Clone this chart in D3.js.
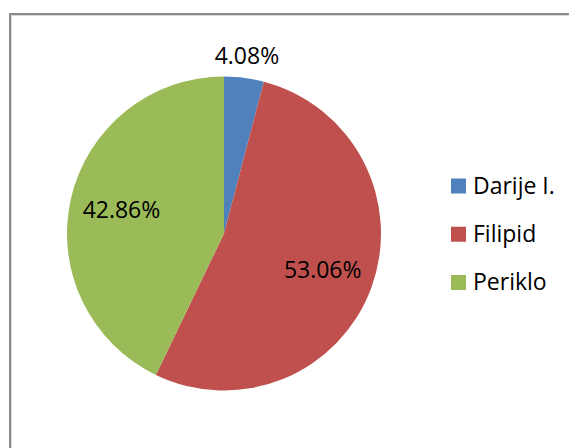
<!DOCTYPE html>
<html>
<head>
<meta charset="utf-8">
<script src="https://cdn.jsdelivr.net/npm/d3@7"></script>
<style>
  html, body { margin: 0; padding: 0; background: #fff; }
  svg { display: block; }
</style>
</head>
<body>
<svg id="chart" width="569" height="448"></svg>
<script>
const categories = ["Darije I.", "Filipid", "Periklo"];
const values = [2, 26, 21];
const labels = ["4.08%", "53.06%", "42.86%"];
const colors = ["#4F81BD", "#C0504D", "#9BBB59"];

const W = 569, H = 448;
const cx = 224, cy = 233.5, R = 157;
const FONT = "'Open Sans', sans-serif";
const FS = 23;

const svg = d3.select("#chart");

// frame
svg.append("rect").attr("x", 10).attr("y", 14).attr("width", W + 20).attr("height", H + 20)
  .attr("fill", "#fff").attr("stroke", "#8a8a8a").attr("stroke-width", 2);
svg.append("path").attr("d", `M11.5,${H + 10}V15.5H${W + 10}`)
  .attr("fill", "none").attr("stroke", "#d9d9d9").attr("stroke-width", 1);

const color = d3.scaleOrdinal().domain(categories).range(colors);
const total = d3.sum(values);
const pie = d3.pie().sort(null).value(d => d.v);
const data = categories.map((c, i) => ({ c, v: values[i], label: labels[i] }));
const arcs = pie(data);

const arc = d3.arc().innerRadius(0).outerRadius(R);
const g = svg.append("g").attr("transform", `translate(${cx},${cy})`);

g.selectAll("path.slice").data(arcs).join("path")
  .attr("class", "slice")
  .attr("d", arc)
  .attr("fill", d => color(d.data.c));

const inArc = d3.arc().innerRadius(R * 0.67).outerRadius(R * 0.67);
const outArc = d3.arc().innerRadius(R + 22).outerRadius(R + 22);

g.selectAll("text.lbl").data(arcs).join("text")
  .attr("class", "lbl")
  .attr("x", d => (d.data.v / total < 0.1 ? outArc : inArc).centroid(d)[0])
  .attr("y", d => (d.data.v / total < 0.1 ? outArc : inArc).centroid(d)[1] + FS * 0.357)
  .attr("text-anchor", "middle")
  .attr("font-family", FONT)
  .attr("font-size", FS)
  .attr("fill", "#000")
  .text(d => d.data.label);

// legend
const ly = d3.scalePoint().domain(categories).range([186, 282.5]);
const lg = svg.append("g");
const items = lg.selectAll("g").data(categories).join("g")
  .attr("transform", c => `translate(451,${ly(c)})`);
items.append("rect").attr("x", 0).attr("y", -7.5).attr("width", 15).attr("height", 15)
  .attr("fill", c => color(c));
items.append("text").attr("x", 22).attr("y", 7.5)
  .attr("font-family", FONT).attr("font-size", FS).attr("fill", "#000")
  .text(c => c);
</script>
</body>
</html>
